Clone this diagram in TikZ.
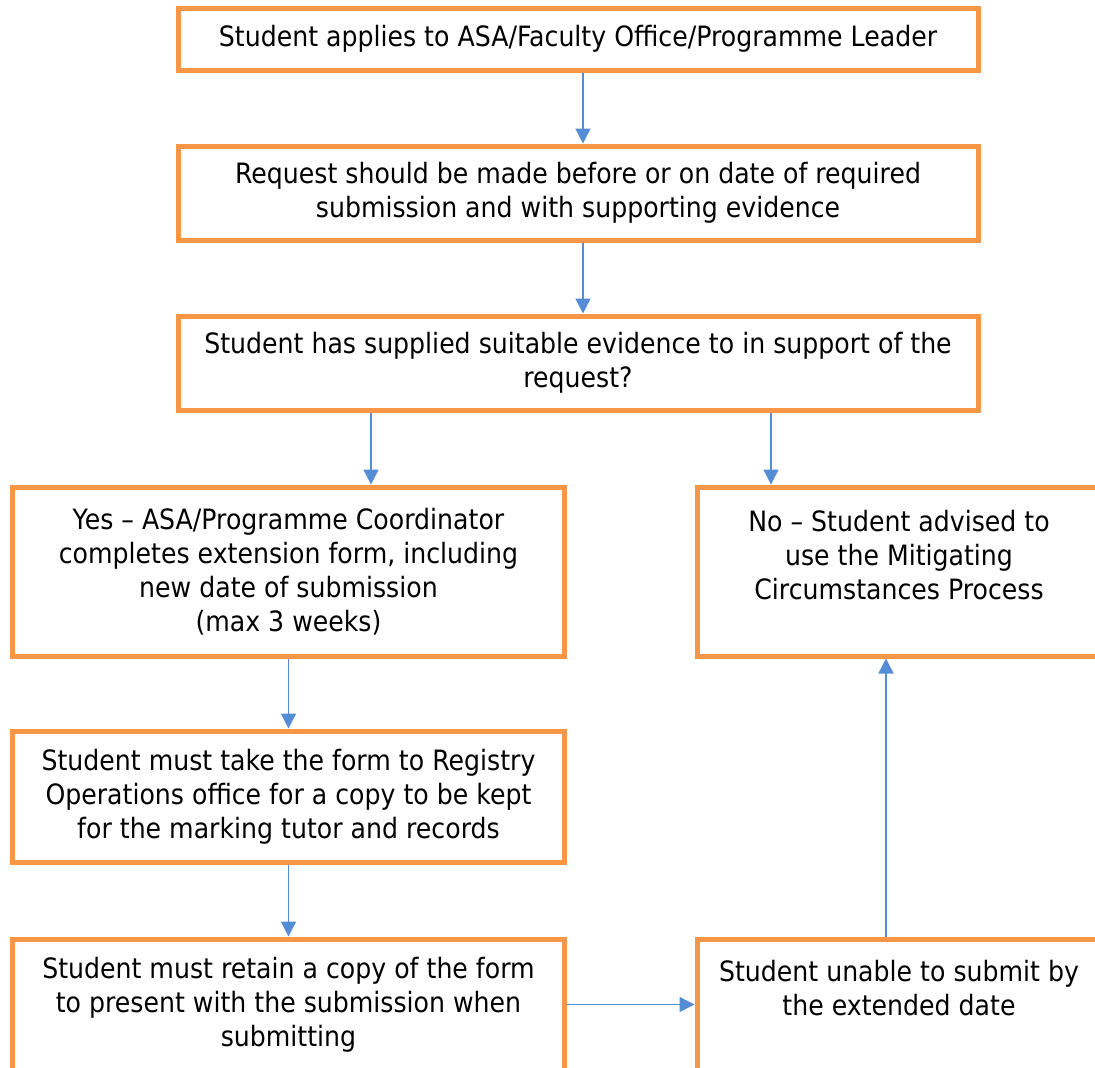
\documentclass[tikz,border=0pt]{standalone}
\usepackage{fontspec}
\setmainfont{DejaVu Sans}[FakeStretch=0.9]
\usetikzlibrary{arrows.meta}
\definecolor{boxorange}{RGB}{247,150,70}
\definecolor{linkblue}{RGB}{84,141,213}

\begin{document}
\begin{tikzpicture}[x=1pt,y=-1pt,
		box/.style={draw=boxorange,line width=5pt,align=center,inner sep=0pt,font=\fontsize{28}{34}\selectfont},
		link/.style={draw=linkblue,line width=1.5pt,-{Triangle[width=15pt,length=15pt]}}]

				\useasboundingbox (0,0) rectangle (1095,1068);
				\fill[white] (0,0) rectangle (1095,1068);
				\clip (0,0) rectangle (1095,1068);

				\node[box,minimum width=800pt,minimum height=62pt] (apply) at (578,39) {Student applies to ASA/Faculty Office/Programme Leader};
				\node[box,minimum width=800pt,minimum height=94pt] (request) at (578,193) {Request should be made before or on date of required\\submission and with supporting evidence};
				\node[box,minimum width=800pt,minimum height=94pt] (evidence) at (578,363) {Student has supplied suitable evidence to in support of the\\request?};
				\node[box,minimum width=552pt,minimum height=169pt] (yes) at (288.5,571.5) {Yes -- ASA/Programme Coordinator\\completes extension form, including\\new date of submission\\(max 3 weeks)};
				\node[box,minimum width=404pt,minimum height=169pt] (no) at (899,571.5) {No -- Student advised to\\use the Mitigating\\Circumstances Process\\~};
				\node[box,minimum width=552pt,minimum height=131pt] (registry) at (288.5,796.5) {Student must take the form to Registry\\Operations office for a copy to be kept\\for the marking tutor and records};
				\node[box,minimum width=552pt,minimum height=131pt] (retain) at (288.5,1004.5) {Student must retain a copy of the form\\to present with the submission when\\submitting};
				\node[box,minimum width=404pt,minimum height=131pt] (unable) at (899,1004.5) {Student unable to submit by\\the extended date\\~};

				\draw[link] ([xshift=5pt]apply.south) -- ([xshift=5pt]request.north);
				\draw[link] ([xshift=5pt]request.south) -- ([xshift=5pt]evidence.north);
				\draw[link] ([xshift=-207pt]evidence.south) -- ([xshift=-207pt]evidence.south |- yes.north);
				\draw[link] ([xshift=193pt]evidence.south) -- ([xshift=193pt]evidence.south |- no.north);
				\draw[link] (yes.south) -- (registry.north);
				\draw[link] (registry.south) -- (retain.north);
				\draw[link] (retain.east) -- (unable.west);
				\draw[link] ([xshift=-13pt]unable.north) -- ([xshift=-13pt]unable.north |- no.south);
			\end{tikzpicture}
\end{document}
